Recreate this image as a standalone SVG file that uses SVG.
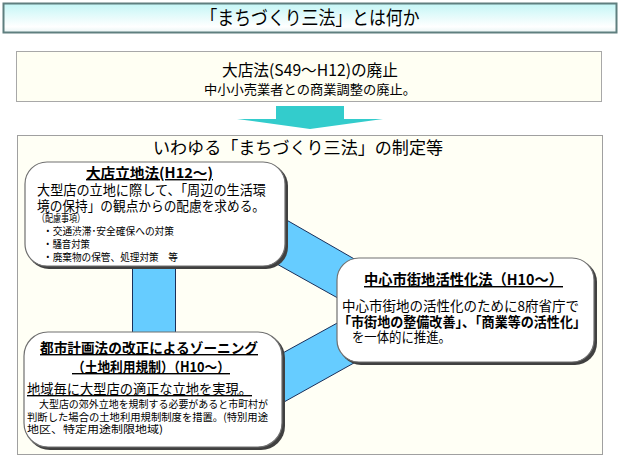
<svg xmlns="http://www.w3.org/2000/svg" width="620" height="465" viewBox="0 0 620 465">
<defs>
<linearGradient id="tg" x1="0" y1="0" x2="0" y2="1">
<stop offset="0" stop-color="#c4f6f6"/>
<stop offset="0.8" stop-color="#ffffff"/>
<stop offset="1" stop-color="#e8f4f4"/>
</linearGradient>
</defs>
<style>
text{font-family:"Noto Sans CJK JP","Noto Sans CJK SC",sans-serif;fill:#000}
.t1{font-size:19px}
.h{font-size:16px}
.m{font-size:13.5px}
.s{font-size:10.5px}
.xs{font-size:10.5px}
.b{font-weight:bold}
.u{text-decoration:underline}
.band{fill:#66ccff;stroke:#1a2f5a;stroke-width:1}
.nb{fill:#ffffff;stroke:#707070;stroke-width:1.2}
.sh{fill:#404040}
</style>
<rect width="620" height="465" fill="#ffffff"/>
<g id="title">
<rect x="3.5" y="3.5" width="613" height="29" fill="url(#tg)" stroke="#5f7f7f" stroke-width="2"/>
<text class="t1" x="310" y="25" text-anchor="middle" textLength="219" lengthAdjust="spacingAndGlyphs">「まちづくり三法」とは何か</text>
</g>
<g id="abolition">
<rect x="16.5" y="51.5" width="585" height="50" fill="#fffff3" stroke="#a8a8a8" stroke-width="1"/>
<text class="h" x="222" y="76" textLength="176" lengthAdjust="spacingAndGlyphs">大店法(S49～H12)の廃止</text>
<text x="204" y="94" style="font-size:13px" textLength="212" lengthAdjust="spacingAndGlyphs">中小小売業者との商業調整の廃止。</text>
</g>
<g id="arrow">
<polygon points="276,106 344,106 344,119 383,119 310,129 237,119 276,119" fill="#33cccc"/>
</g>
<g id="main">
<rect x="17.5" y="135.5" width="585" height="319" fill="#fffff5" stroke="#a0a0a0" stroke-width="1"/>
<text x="153" y="154" style="font-size:17px" textLength="290" lengthAdjust="spacingAndGlyphs">いわゆる「まちづくり三法」の制定等</text>
</g>
<g id="connectors">
<rect class="band" x="132.5" y="250" width="43" height="100"/>
<polygon class="band" points="250,199 370,268 370,316 250,249"/>
<polygon class="band" points="250,371 370,305 370,354 250,421"/>
</g>
<g id="rittiho">
<rect class="sh" x="27" y="164" width="261" height="105" rx="22"/>
<rect class="nb" x="25" y="162" width="260" height="104" rx="22"/>
<text class="b u" x="86" y="178" style="font-size:14px" textLength="127" lengthAdjust="spacingAndGlyphs">大店立地法(H12～)</text>
<text class="m" x="37" y="195" textLength="229" lengthAdjust="spacingAndGlyphs">大型店の立地に際して、「周辺の生活環</text>
<text class="m" x="37" y="211" textLength="228" lengthAdjust="spacingAndGlyphs">境の保持」の観点からの配慮を求める。</text>
<text class="s" x="37" y="222" textLength="48" lengthAdjust="spacingAndGlyphs">（配慮事項）</text>
<text class="s" x="43" y="235" textLength="131" lengthAdjust="spacingAndGlyphs">・交通渋滞･安全確保への対策</text>
<text class="s" x="43" y="248" textLength="47" lengthAdjust="spacingAndGlyphs">・騒音対策</text>
<text class="s" x="43" y="261" textLength="135" lengthAdjust="spacingAndGlyphs">・廃棄物の保管、処理対策　等</text>
</g>
<g id="kasseika">
<rect class="sh" x="339" y="260" width="258" height="105" rx="22"/>
<rect class="nb" x="337" y="258" width="257" height="104" rx="22"/>
<text class="b u" x="364" y="285" style="font-size:14.5px" textLength="199" lengthAdjust="spacingAndGlyphs">中心市街地活性化法（H10～）</text>
<text class="m" x="342" y="311" textLength="237" lengthAdjust="spacingAndGlyphs">中心市街地の活性化のために8府省庁で</text>
<text class="m b" x="338" y="326.5" textLength="248" lengthAdjust="spacingAndGlyphs">「市街地の整備改善」、「商業等の活性化」</text>
<text class="m" x="352" y="342" textLength="99" lengthAdjust="spacingAndGlyphs">を一体的に推進。</text>
</g>
<g id="zoning">
<rect class="sh" x="26" y="334" width="259" height="116" rx="24"/>
<rect class="nb" x="24" y="332" width="258" height="115" rx="24"/>
<text class="b u" x="40" y="353" style="font-size:14px" textLength="218" lengthAdjust="spacingAndGlyphs">都市計画法の改正によるゾーニング</text>
<text class="b u" x="72" y="372" style="font-size:14px" textLength="158" lengthAdjust="spacingAndGlyphs">（土地利用規制）（H10～）</text>
<text class="u" x="27" y="394" style="font-size:14px" textLength="225" lengthAdjust="spacingAndGlyphs">地域毎に大型店の適正な立地を実現。</text>
<text class="xs" x="39" y="407.5" textLength="229" lengthAdjust="spacingAndGlyphs">大型店の郊外立地を規制する必要があると市町村が</text>
<text class="xs" x="27" y="420.5" textLength="241" lengthAdjust="spacingAndGlyphs">判断した場合の土地利用規制制度を措置。(特別用途</text>
<text class="xs" x="27" y="433" textLength="136" lengthAdjust="spacingAndGlyphs">地区、特定用途制限地域)</text>
</g>
</svg>
